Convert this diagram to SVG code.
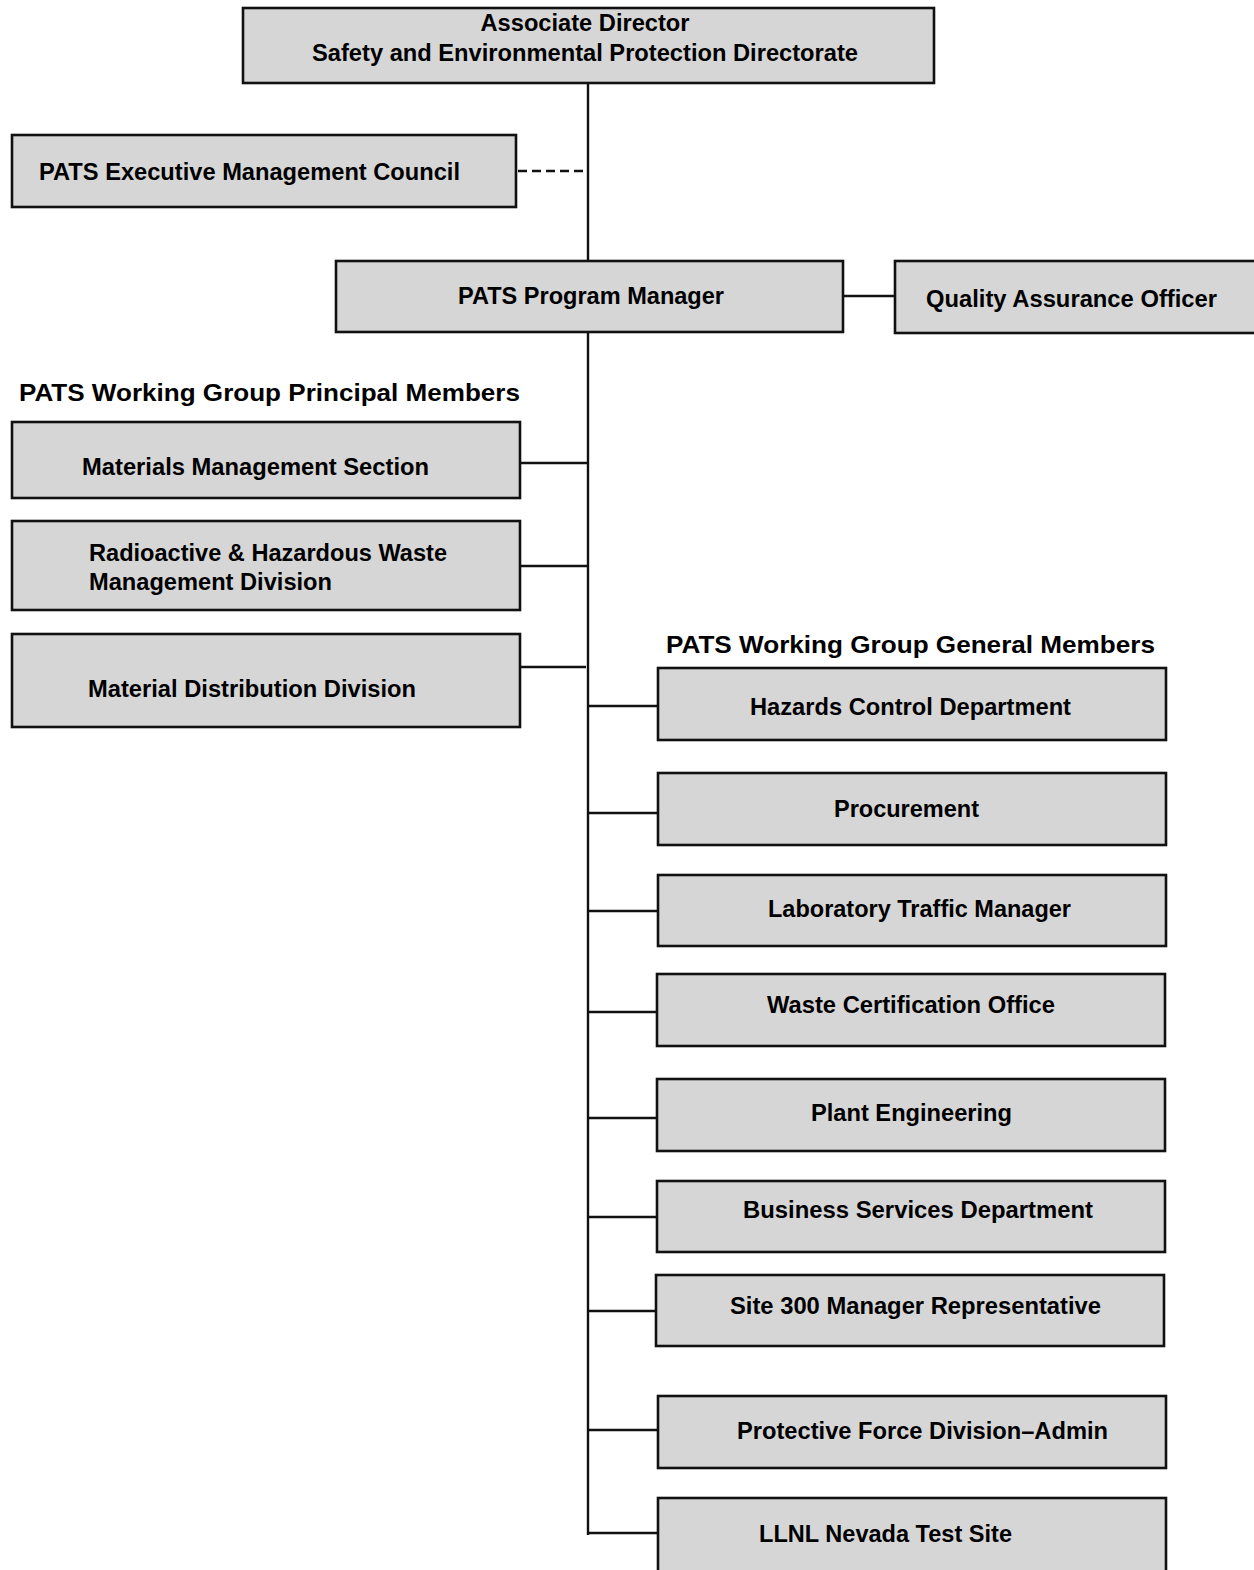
<svg xmlns="http://www.w3.org/2000/svg" width="1254" height="1570" viewBox="0 0 1254 1570">
<style>
.box{fill:#d6d6d6;stroke:#111;stroke-width:2.6}
.t{font-family:"Liberation Sans",Arial,sans-serif;font-weight:bold;font-size:23px;fill:#000}
.h{font-family:"Liberation Sans",Arial,sans-serif;font-weight:bold;font-size:24.5px;fill:#000}
.ln{stroke:#111;stroke-width:2.4;fill:none}
.dash{stroke:#111;stroke-width:2.4;fill:none;stroke-dasharray:9,5}
</style>
<rect width="1254" height="1570" fill="#fff"/>
<g id="connectors">
<line class="ln" x1="588" y1="83" x2="588" y2="1535"/>
<line class="dash" x1="518" y1="171" x2="588" y2="171"/>
<line class="ln" x1="843" y1="296" x2="895" y2="296"/>
<line class="ln" x1="520" y1="463" x2="588" y2="463"/>
<line class="ln" x1="520" y1="566" x2="588" y2="566"/>
<line class="ln" x1="520" y1="667" x2="586" y2="667"/>
<line class="ln" x1="588" y1="706" x2="658" y2="706"/>
<line class="ln" x1="588" y1="813" x2="658" y2="813"/>
<line class="ln" x1="588" y1="911" x2="658" y2="911"/>
<line class="ln" x1="588" y1="1012" x2="657" y2="1012"/>
<line class="ln" x1="588" y1="1118" x2="657" y2="1118"/>
<line class="ln" x1="588" y1="1217" x2="657" y2="1217"/>
<line class="ln" x1="588" y1="1311" x2="656" y2="1311"/>
<line class="ln" x1="588" y1="1430" x2="658" y2="1430"/>
<line class="ln" x1="588" y1="1533" x2="658" y2="1533"/>
</g>
<g id="associate-director">
<rect class="box" x="243" y="8" width="691" height="75"/>
<text class="t" x="585" y="31" text-anchor="middle" textLength="209" lengthAdjust="spacingAndGlyphs">Associate Director</text>
<text class="t" x="585" y="61" text-anchor="middle" textLength="546" lengthAdjust="spacingAndGlyphs">Safety and Environmental Protection Directorate</text>
</g>
<g id="exec-council">
<rect class="box" x="12" y="135" width="504" height="72"/>
<text class="t" x="39" y="180" textLength="421" lengthAdjust="spacingAndGlyphs">PATS Executive Management Council</text>
</g>
<g id="program-manager">
<rect class="box" x="336" y="261" width="507" height="71"/>
<text class="t" x="458" y="304" textLength="266" lengthAdjust="spacingAndGlyphs">PATS Program Manager</text>
</g>
<g id="qa-officer">
<rect class="box" x="895" y="261" width="362" height="72"/>
<text class="t" x="926" y="307" textLength="291" lengthAdjust="spacingAndGlyphs">Quality Assurance Officer</text>
</g>
<g id="heading-principal">
<text class="h" x="19" y="401" textLength="501" lengthAdjust="spacingAndGlyphs">PATS Working Group Principal Members</text>
</g>
<g id="materials-management">
<rect class="box" x="12" y="422" width="508" height="76"/>
<text class="t" x="82" y="475" textLength="347" lengthAdjust="spacingAndGlyphs">Materials Management Section</text>
</g>
<g id="radioactive-waste">
<rect class="box" x="12" y="521" width="508" height="89"/>
<text class="t" x="89" y="561" textLength="358" lengthAdjust="spacingAndGlyphs">Radioactive &amp; Hazardous Waste</text>
<text class="t" x="89" y="590" textLength="243" lengthAdjust="spacingAndGlyphs">Management Division</text>
</g>
<g id="material-distribution">
<rect class="box" x="12" y="634" width="508" height="93"/>
<text class="t" x="88" y="697" textLength="328" lengthAdjust="spacingAndGlyphs">Material Distribution Division</text>
</g>
<g id="heading-general">
<text class="h" x="666" y="653" textLength="489" lengthAdjust="spacingAndGlyphs">PATS Working Group General Members</text>
</g>
<g id="hazards-control">
<rect class="box" x="658" y="668" width="508" height="72"/>
<text class="t" x="750" y="715" textLength="321" lengthAdjust="spacingAndGlyphs">Hazards Control Department</text>
</g>
<g id="procurement">
<rect class="box" x="658" y="773" width="508" height="72"/>
<text class="t" x="834" y="817" textLength="145" lengthAdjust="spacingAndGlyphs">Procurement</text>
</g>
<g id="traffic-manager">
<rect class="box" x="658" y="875" width="508" height="71"/>
<text class="t" x="768" y="917" textLength="303" lengthAdjust="spacingAndGlyphs">Laboratory Traffic Manager</text>
</g>
<g id="waste-certification">
<rect class="box" x="657" y="974" width="508" height="72"/>
<text class="t" x="767" y="1013" textLength="288" lengthAdjust="spacingAndGlyphs">Waste Certification Office</text>
</g>
<g id="plant-engineering">
<rect class="box" x="657" y="1079" width="508" height="72"/>
<text class="t" x="811" y="1121" textLength="201" lengthAdjust="spacingAndGlyphs">Plant Engineering</text>
</g>
<g id="business-services">
<rect class="box" x="657" y="1181" width="508" height="71"/>
<text class="t" x="743" y="1218" textLength="350" lengthAdjust="spacingAndGlyphs">Business Services Department</text>
</g>
<g id="site-300">
<rect class="box" x="656" y="1275" width="508" height="71"/>
<text class="t" x="730" y="1314" textLength="371" lengthAdjust="spacingAndGlyphs">Site 300 Manager Representative</text>
</g>
<g id="protective-force">
<rect class="box" x="658" y="1396" width="508" height="72"/>
<text class="t" x="737" y="1439" textLength="371" lengthAdjust="spacingAndGlyphs">Protective Force Division–Admin</text>
</g>
<g id="nevada-test-site">
<rect class="box" x="658" y="1498" width="508" height="80"/>
<text class="t" x="759" y="1542" textLength="253" lengthAdjust="spacingAndGlyphs">LLNL Nevada Test Site</text>
</g>
</svg>
